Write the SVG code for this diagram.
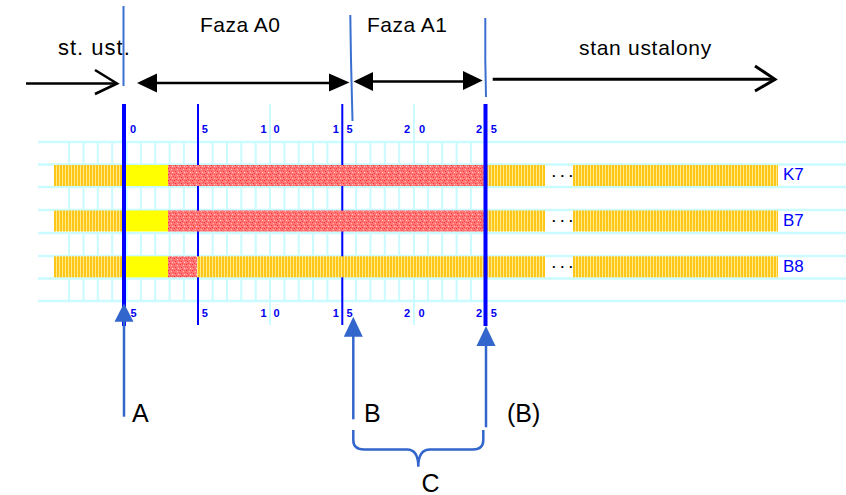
<svg xmlns="http://www.w3.org/2000/svg" xmlns:xlink="http://www.w3.org/1999/xlink" width="846" height="495" viewBox="0 0 846 495">
<defs>
<style>
.grid{stroke:#c9fbff;stroke-width:2.7;fill:none}
.tick{stroke:#c9fbff;stroke-width:2;fill:none}
.thin{stroke:#0000ff;stroke-width:2;fill:none}
.thick{stroke:#0000ff;stroke-width:4;fill:none}
.dig{font-family:"Liberation Sans",Arial,sans-serif;font-size:11px;font-weight:bold;fill:#0000ee}
.lbl{font-family:"Liberation Sans",Arial,sans-serif;font-size:21px;letter-spacing:0.5px;fill:#000}
.big{font-family:"Liberation Sans",Arial,sans-serif;font-size:25px;fill:#000}
.row{font-family:"Liberation Sans",Arial,sans-serif;font-size:17px;fill:#0000ff}
.dots{font-family:"Liberation Sans",Arial,sans-serif;font-size:13px;font-weight:bold;fill:#000}
.mark{stroke:#3a6fd0;stroke-width:2;fill:none}
.blk{stroke:#000;stroke-width:2.6;fill:none}
.blkh{fill:#000}
.barr{stroke:#3366cc;stroke-width:2.5;fill:none}
.barh{fill:#3366cc}
.or{fill:url(#orange)}
.rd{fill:url(#red)}
.ye{fill:#ffff00}
</style>
<pattern id="orange" patternUnits="userSpaceOnUse" width="3" height="10">
<rect width="3" height="10" fill="#ffc61a"/>
<rect x="2" width="1" height="10" fill="#ffeb8a"/>
</pattern>
<pattern id="red" patternUnits="userSpaceOnUse" width="6" height="6">
<rect width="6" height="6" fill="#ff7676"/>
<rect x="0" y="0" width="1" height="1" fill="#ff2e2e"/>
<rect x="3" y="1" width="1" height="1" fill="#ffb8b8"/>
<rect x="1" y="3" width="1" height="1" fill="#ff2a2a"/>
<rect x="4" y="4" width="1" height="1" fill="#ffd0d0"/>
<rect x="2" y="5" width="1" height="1" fill="#ff4040"/>
<rect x="5" y="2" width="1" height="1" fill="#ff4a4a"/>
<rect x="4" y="0" width="1" height="1" fill="#ff5555"/>
<rect x="0" y="4" width="1" height="1" fill="#ff9a9a"/>
</pattern>
<path id="ticks" class="tick" d="M69.1 0V23M83.5 0V23M97.8 0V23M112.2 0V23M126.5 0V23M140.9 0V23M155.2 0V23M169.6 0V23M183.9 0V23M198.3 0V23M212.6 0V23M227 0V23M241.3 0V23M255.7 0V23M270 0V23M284.4 0V23M298.7 0V23M313.1 0V23M327.4 0V23M341.8 0V23M356.1 0V23M370.5 0V23M384.8 0V23M399.2 0V23M414 0V23M427.9 0V23M442.2 0V23M456.6 0V23M470.9 0V23M485.3 0V23"/>
</defs>

<g id="grid">
<path class="grid" d="M38 142H846M38 164.5H846M38 187H846M38 210H846M38 233H846M38 256H846M38 278.5H846M38 301H846"/>
<use href="#ticks" xlink:href="#ticks" y="142"/>
<use href="#ticks" xlink:href="#ticks" y="187"/>
<use href="#ticks" xlink:href="#ticks" y="233"/>
<use href="#ticks" xlink:href="#ticks" y="278.5"/>
<path class="tick" d="M270 104V325M414 104V325"/>
<path class="thin" d="M198 104V325M342.3 104V325"/>
</g>

<g id="row-K7">
<rect class="or" x="54" y="165" width="70" height="21"/>
<rect class="ye" x="124" y="165" width="44" height="21"/>
<rect class="rd" x="168" y="165" width="317" height="21"/>
<rect class="or" x="485" y="165" width="60" height="21"/>
<text class="dots" x="552 560.5 569" y="176.5">...</text>
<rect class="or" x="573" y="165" width="205" height="21"/>
<text class="row" x="783" y="180">K7</text>
</g>
<g id="row-B7">
<rect class="or" x="54" y="210.5" width="70" height="21"/>
<rect class="ye" x="124" y="210.5" width="44" height="21"/>
<rect class="rd" x="168" y="210.5" width="317" height="21"/>
<rect class="or" x="485" y="210.5" width="60" height="21"/>
<text class="dots" x="552 560.5 569" y="222">...</text>
<rect class="or" x="573" y="210.5" width="205" height="21"/>
<text class="row" x="783" y="225.5">B7</text>
</g>
<g id="row-B8">
<rect class="or" x="54" y="256.3" width="70" height="21"/>
<rect class="ye" x="124" y="256.3" width="44" height="21"/>
<rect class="rd" x="168" y="256.3" width="29" height="21"/>
<rect class="or" x="197" y="256.3" width="348" height="21"/>
<text class="dots" x="552 560.5 569" y="268">...</text>
<rect class="or" x="573" y="256.3" width="205" height="21"/>
<text class="row" x="783" y="271.5">B8</text>
</g>

<g id="scale">
<path class="thick" d="M124 104V326M485.5 104V326"/>
<text class="dig" x="130" y="132.5">0</text>
<text class="dig" x="201.7" y="132.5">5</text>
<text class="dig" x="260.5 273.5" y="132.5">10</text>
<text class="dig" x="332.7 346.5" y="132.5">15</text>
<text class="dig" x="404 419" y="132.5">20</text>
<text class="dig" x="476 490.7" y="132.5">25</text>
<text class="dig" x="130.5" y="316.5">5</text>
<text class="dig" x="201.7" y="316.5">5</text>
<text class="dig" x="260.5 273.5" y="316.5">10</text>
<text class="dig" x="332.7 346.5" y="316.5">15</text>
<text class="dig" x="404 418.5" y="316.5">20</text>
<text class="dig" x="476 490.7" y="316.5">25</text>
</g>

<g id="phase-labels">
<text class="lbl" x="58" y="55" style="font-size:22px;letter-spacing:1px">st. ust.</text>
<text class="lbl" x="200" y="32">Faza A0</text>
<text class="lbl" x="367" y="32">Faza A1</text>
<text class="lbl" x="579" y="55" style="letter-spacing:0.7px">stan ustalony</text>
</g>

<g id="connectors">
<path class="mark" d="M123.5 6V86"/>
<path class="mark" d="M350.3 15L351 60L352.5 121"/>
<path class="mark" d="M485.3 18V60L486 97"/>
<path class="blk" d="M26 83.5H116"/>
<path class="blk" d="M95 70L117 83.5L95 94"/>
<path class="blk" d="M150 83H336"/>
<polygon class="blkh" points="137,83 157,73.5 157,92.5"/>
<polygon class="blkh" points="349.5,82.5 329,73.5 329,91.5"/>
<path class="blk" d="M365 81.5H470"/>
<polygon class="blkh" points="353.5,81.5 373,72 373,91"/>
<polygon class="blkh" points="482.7,80.5 463,71 463,90"/>
<path class="blk" d="M492.7 79.3H774" style="stroke-width:3"/>
<path class="blk" d="M755 66L775 79.3L755 91" style="stroke-width:3"/>
<path class="barr" d="M124 416.7V320"/>
<polygon class="barh" points="124,303.3 114.5,321.7 133.5,321.7"/>
<path class="barr" d="M353.3 419.3V335"/>
<polygon class="barh" points="353.3,316.7 343.8,336.7 362.8,336.7"/>
<path class="barr" d="M486 427.3V344"/>
<polygon class="barh" points="486,326 476.5,346 495.5,346"/>
<path class="barr" d="M353.3 430V440Q353.3 449.5 364 449.5H407Q418.3 449.5 418.3 466.7Q418.3 449.5 430 449.5H473Q483.3 449.5 483.3 440V430"/>
</g>

<g id="point-labels">
<text class="big" x="132" y="422">A</text>
<text class="big" x="364" y="422">B</text>
<text class="big" x="507" y="422">(B)</text>
<text class="big" x="421.5" y="491.5">C</text>
</g>
</svg>
